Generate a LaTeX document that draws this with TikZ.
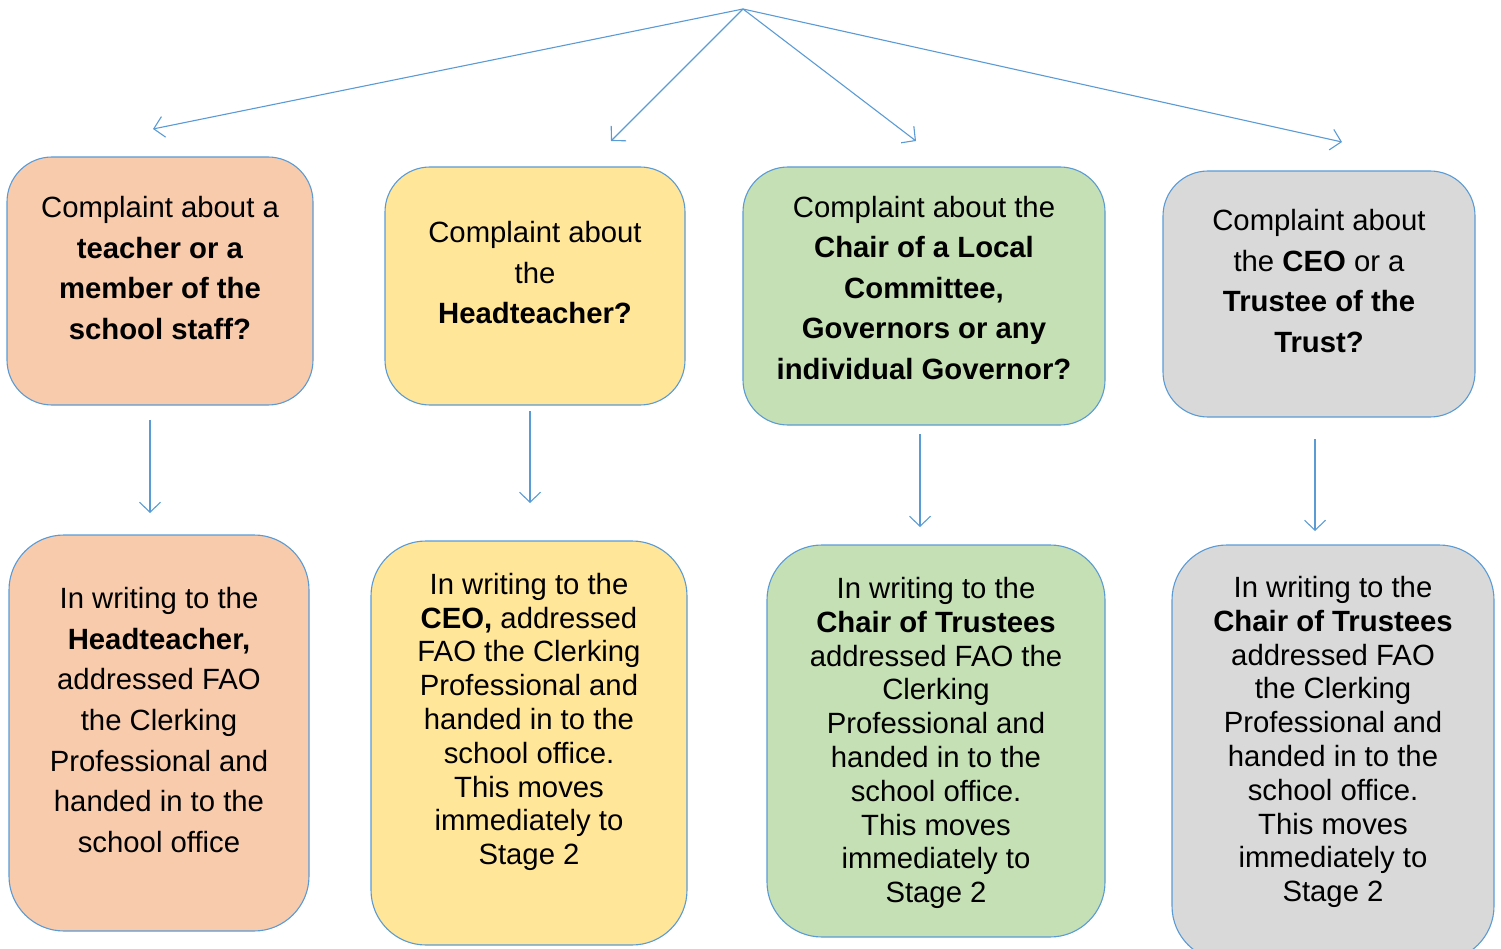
\documentclass[tikz,border=0pt]{standalone}
\usepackage{fontspec}
\setmainfont{Liberation Sans}
\usetikzlibrary{arrows.meta}
\definecolor{edge}{HTML}{5B9BD5}
\definecolor{peach}{HTML}{F8CBAD}
\definecolor{butter}{HTML}{FFE699}
\definecolor{sage}{HTML}{C5E0B4}
\definecolor{silver}{HTML}{D9D9D9}
\tikzset{
  box/.style={draw=edge, line width=1.1pt, rounded corners=#1, inner sep=0pt},
  box/.default=45pt,
  toptext/.style={align=center, font=\fontsize{29.3}{40.5}\selectfont, inner sep=0pt},
  bottext/.style={align=center, font=\fontsize{29.3}{33.8}\selectfont, inner sep=0pt},
  bottext1/.style={align=center, font=\fontsize{29.3}{40.6}\selectfont, inner sep=0pt},
  link/.style={draw=edge, line width=1.1pt, -{Straight Barb[length=10pt,width=21pt,line width=1.1pt]}}
}
\begin{document}
\begin{tikzpicture}[x=1pt,y=-1pt]
\useasboundingbox (0,0) rectangle (1501,949);
% top boxes
\node[box, fill=peach, minimum width=306pt, minimum height=248pt] (t1) at (160,281) {};
\node[box, fill=butter, minimum width=300pt, minimum height=238pt] (t2) at (535,286) {};
\node[box, fill=sage, minimum width=362pt, minimum height=258pt] (t3) at (924,296) {};
\node[box, fill=silver, minimum width=312pt, minimum height=246pt] (t4) at (1319,294) {};
% bottom boxes
\node[box=55pt, fill=peach, minimum width=300pt, minimum height=396pt] (b1) at (159,733) {};
\node[box=55pt, fill=butter, minimum width=316pt, minimum height=404pt] (b2) at (529,743) {};
\node[box=55pt, fill=sage, minimum width=338pt, minimum height=392pt] (b3) at (936,741) {};
\node[box=55pt, fill=silver, minimum width=322pt, minimum height=416pt] (b4) at (1333,753) {};
% top texts
\node[toptext] (tt1) at (160,268) {Complaint about a\\\textbf{teacher or a}\\\textbf{member of the}\\\textbf{school staff?}};
\node[toptext] (tt2) at (535,273) {Complaint about\\the\\\textbf{Headteacher?}};
\node[toptext] (tt3) at (924,288) {Complaint about the\\\textbf{Chair of a Local}\\\textbf{Committee,}\\\textbf{Governors or any}\\\textbf{individual Governor?}};
\node[toptext] (tt4) at (1319,281) {Complaint about\\the \textbf{CEO} or a\\\textbf{Trustee of the}\\\textbf{Trust?}};
% bottom texts
\node[bottext1] (bt1) at (159,720) {In writing to the\\\textbf{Headteacher,}\\addressed FAO\\the Clerking\\Professional and\\handed in to the\\school office};
\node[bottext] (bt2) at (529,722) {In writing to the\\\textbf{CEO,} addressed\\FAO the Clerking\\Professional and\\handed in to the\\school office.\\This moves\\immediately to\\Stage 2};
\node[bottext] (bt3) at (936,743) {In writing to the\\\textbf{Chair of Trustees}\\addressed FAO the\\Clerking\\Professional and\\handed in to the\\school office.\\This moves\\immediately to\\Stage 2};
\node[bottext] (bt4) at (1333,742) {In writing to the\\\textbf{Chair of Trustees}\\addressed FAO\\the Clerking\\Professional and\\handed in to the\\school office.\\This moves\\immediately to\\Stage 2};
% connector coordinates
\coordinate (apex) at (743,9);
\coordinate (e1) at (153,129);
\coordinate (e2) at (611,141);
\coordinate (e3) at (916,141);
\coordinate (e4) at (1342,142);
\coordinate (s1) at (150,420);
\coordinate (d1) at (150,513);
\coordinate (s2) at (530,411);
\coordinate (d2) at (530,503);
\coordinate (s3) at (920,434);
\coordinate (d3) at (920,527);
\coordinate (s4) at (1315,439);
\coordinate (d4) at (1315,531);
\draw[link] (apex) -- (e1);
\draw[link] (apex) -- (e2);
\draw[link] (apex) -- (e3);
\draw[link] (apex) -- (e4);
\draw[link] (s1) -- (d1);
\draw[link] (s2) -- (d2);
\draw[link] (s3) -- (d3);
\draw[link] (s4) -- (d4);
\end{tikzpicture}
\end{document}
